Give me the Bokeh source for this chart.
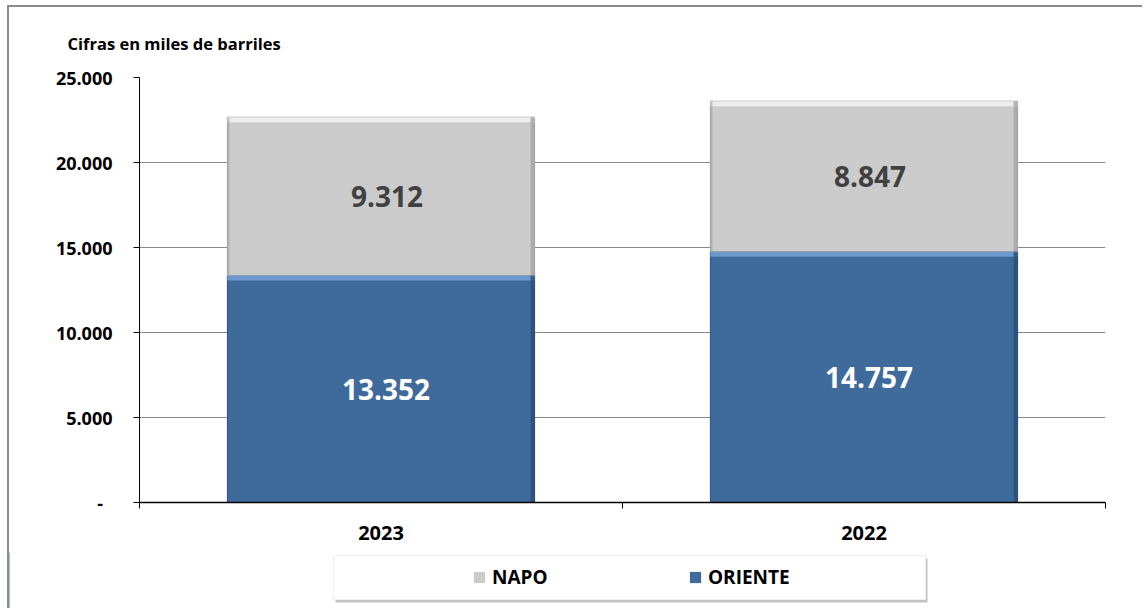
from bokeh.plotting import figure
from bokeh.layouts import column
from bokeh.models import (Range1d, FixedTicker, Legend, LegendItem, ColumnDataSource,
                          LinearAxis, Grid)
from bokeh.core.properties import value
from bokeh.embed import file_html
from bokeh.resources import INLINE

# ---------------- data ----------------
years = ["2023", "2022"]
napo = [9312, 8847]
oriente = [13352, 14757]
series_names = ["NAPO", "ORIENTE"]
y_ticks = [0, 5000, 10000, 15000, 20000, 25000]
title_text = "Cifras en miles de barriles"

# ---------------- styles ----------------
FONT = "Open Sans"
BLUE = "#3F6A9C"
BLUE_LIGHT = "#6D99CF"
BLUE_DARK = "#2C4E78"
GRAY = "#CBCBCB"
GRAY_LIGHT = "#EDEDED"
GRAY_DARK = "#A3A3A3"
GRID = "#8A8A8A"
BORDER = "#8C8C8C"
BAR_W = 0.636
Y_MAX = 25000

W = 1135
H_MAIN = 547
H_LEG = 56
CANVAS_L = 9          # page x of the canvas' left edge


def fmt(v):
    return f"{v:,}".replace(",", ".")


xs = [i + 0.5 for i in range(len(years))]
totals = [a + b for a, b in zip(oriente, napo)]

p = figure(width=W, height=H_MAIN, output_backend="svg", toolbar_location=None,
           x_range=Range1d(0, len(years)), y_range=Range1d(0, Y_MAX),
           min_border_left=130, min_border_right=W - 1096, min_border_top=70,
           min_border_bottom=52, x_axis_type=None, y_axis_type=None,
           styles={"border-left": f"2px solid {BORDER}",
                   "border-top": f"2px solid {BORDER}"})
p.outline_line_color = None
p.background_fill_color = "white"
p.border_fill_color = "white"
p.xgrid.visible = False
p.ygrid.visible = False

# y axis
yax = LinearAxis(ticker=FixedTicker(ticks=y_ticks))
yax.major_label_overrides = {t: (fmt(t) if t else "-\u00a0\u00a0") for t in y_ticks}
yax.major_label_text_font = FONT
yax.major_label_text_font_style = "bold"
yax.major_label_text_font_size = "18px"
yax.major_label_text_color = "black"
yax.major_tick_out = 6
yax.major_tick_in = 0
yax.minor_tick_line_color = None
yax.axis_line_color = "black"
yax.major_tick_line_color = "black"
yax.major_label_standoff = 21
p.add_layout(yax, "left")

# x axis: labels at category centres, ticks at category boundaries
xax = LinearAxis(ticker=FixedTicker(ticks=xs, minor_ticks=list(range(len(years) + 1))))
xax.major_label_overrides = {x: y for x, y in zip(xs, years)}
xax.major_label_text_font = FONT
xax.major_label_text_font_style = "bold"
xax.major_label_text_font_size = "20px"
xax.major_label_text_color = "black"
xax.major_tick_line_color = None
xax.major_tick_out = 0
xax.minor_tick_out = 6
xax.minor_tick_in = 0
xax.minor_tick_line_color = "black"
xax.axis_line_color = "black"
xax.axis_line_width = 1.5
xax.major_label_standoff = 17
p.add_layout(xax, "below")

grid = Grid(dimension=1, ticker=FixedTicker(ticks=[t for t in y_ticks if t > 0]),
            grid_line_color=GRID, grid_line_width=1.2)
p.add_layout(grid)

# bars
band_y = 5 * Y_MAX / 425.0
band_x = 4 / 483.0

src = ColumnDataSource(dict(x=xs, oriente=oriente, napo=napo, total=totals))
r_or = p.vbar(x="x", width=BAR_W, bottom=0, top="oriente", source=src,
              fill_color=BLUE, line_color=BLUE_DARK, line_width=1)
r_na = p.vbar(x="x", width=BAR_W, bottom="oriente", top="total", source=src,
              fill_color=GRAY, line_color=GRAY_DARK, line_width=1)

# bevel effects
lefts = [x - BAR_W / 2 for x in xs]
rights = [x + BAR_W / 2 for x in xs]
p.quad(left=lefts, right=rights, top=oriente, bottom=[v - band_y for v in oriente],
       fill_color=BLUE_LIGHT, line_color=None)
p.quad(left=[r - band_x for r in rights], right=rights, top=oriente, bottom=[0] * len(xs),
       fill_color=BLUE_DARK, line_color=None, fill_alpha=0.8)
p.quad(left=lefts, right=rights, top=totals, bottom=[t - band_y for t in totals],
       fill_color=GRAY_LIGHT, line_color=None)
p.quad(left=[r - band_x for r in rights], right=rights, top=totals, bottom=oriente,
       fill_color=GRAY_DARK, line_color=None, fill_alpha=0.8)
p.quad(left=lefts, right=[l + band_x / 2 for l in lefts], top=totals, bottom=oriente,
       fill_color=GRAY_DARK, line_color=None, fill_alpha=0.6)

# data labels
p.text(x=xs, y=[v / 2 for v in oriente], text=[fmt(v) for v in oriente],
       text_font=value(FONT), text_font_style="bold", text_font_size="28px",
       text_color="white", text_align="center", text_baseline="middle", x_offset=5)
p.text(x=xs, y=[o + n / 2 for o, n in zip(oriente, napo)], text=[fmt(v) for v in napo],
       text_font=value(FONT), text_font_style="bold", text_font_size="28px",
       text_color="#404040", text_align="center", text_baseline="middle", x_offset=6)

# title
p.title.text = title_text
p.title.text_font = FONT
p.title.text_font_style = "bold"
p.title.text_font_size = "16.5px"
p.title.text_color = "black"
p.title.align = "left"
p.title.offset = -72
p.title.standoff = 45

# ---------------- legend strip ----------------
# frame of this strip covers its whole canvas; x in page pixels
p2 = figure(width=W, height=H_LEG, output_backend="svg", toolbar_location=None,
            x_range=Range1d(CANVAS_L, CANVAS_L + W), y_range=Range1d(H_LEG, 0),
            min_border=0, x_axis_type=None, y_axis_type=None, frame_align=False,
            styles={"border-left": f"2px solid {BORDER}"})
p2.outline_line_color = None
p2.background_fill_color = "white"
p2.border_fill_color = "white"

# box with shadow (layout, not data)
p2.quad(left=[335], right=[927], top=[6], bottom=[50], fill_color="#BDBDBD",
        fill_alpha=0.9, line_color=None)
p2.quad(left=[333], right=[925], top=[3], bottom=[47], fill_color="white",
        line_color="#EFEFEF", line_width=1)

# legend proxies (same data, outside this strip's visible range)
l_na = p2.vbar(x=xs, bottom=oriente, top=totals, width=BAR_W,
               fill_color=GRAY, line_color=None)
l_or = p2.vbar(x=xs, bottom=0, top=oriente, width=BAR_W,
               fill_color=BLUE, line_color=None)

legend = Legend(items=[LegendItem(label=series_names[0], renderers=[l_na]),
                       LegendItem(label=series_names[1], renderers=[l_or])],
                orientation="horizontal", location=(472 - CANVAS_L, 18),
                padding=0, margin=0, spacing=96, label_width=100,
                glyph_width=14, glyph_height=14, label_standoff=6,
                background_fill_alpha=0, border_line_color=None,
                label_text_font=FONT, label_text_font_style="bold",
                label_text_font_size="19px", label_text_color="black")
p2.add_layout(legend, "center")

layout = column(p, p2, spacing=0,
                styles={"margin-left": "7px", "margin-top": "5px"})

open("out.html", "w").write(file_html(layout, INLINE))
